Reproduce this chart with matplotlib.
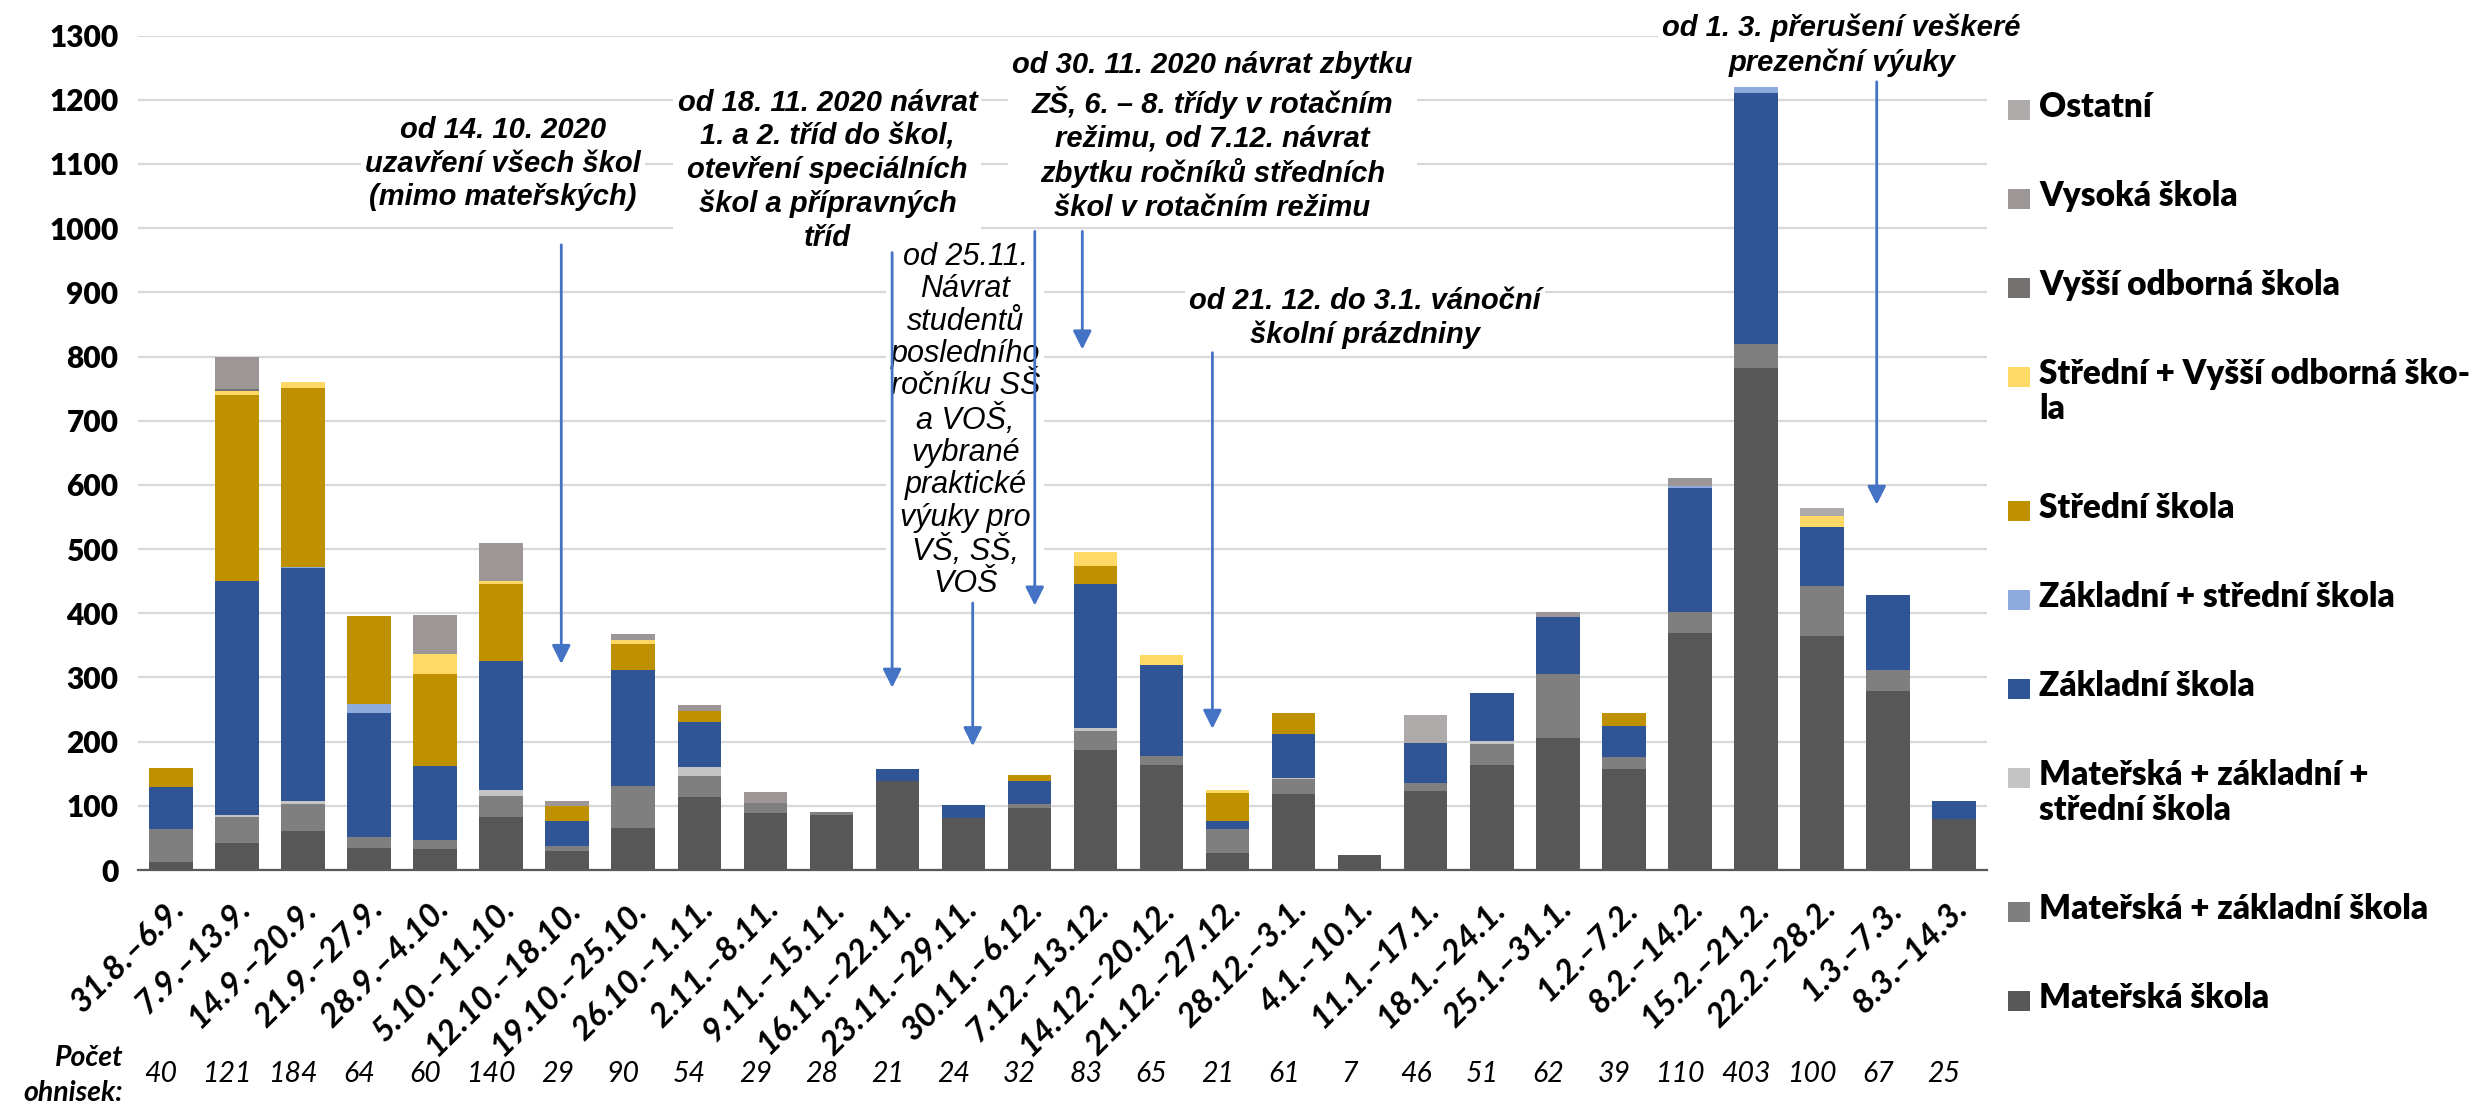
import matplotlib
matplotlib.use("Agg")
import matplotlib.pyplot as plt
import matplotlib.transforms as mtransforms
from matplotlib.patches import Rectangle
import numpy as np

weeks = ["31.8.–6.9.", "7.9.–13.9.", "14.9.–20.9.", "21.9.–27.9.", "28.9.–4.10.",
         "5.10.–11.10.", "12.10.–18.10.", "19.10.–25.10.", "26.10.–1.11.", "2.11.–8.11.",
         "9.11.–15.11.", "16.11.–22.11.", "23.11.–29.11.", "30.11.–6.12.", "7.12.–13.12.",
         "14.12.–20.12.", "21.12.–27.12.", "28.12.–3.1.", "4.1.–10.1.", "11.1.–17.1.",
         "18.1.–24.1.", "25.1.–31.1.", "1.2.–7.2.", "8.2.–14.2.", "15.2.–21.2.",
         "22.2.–28.2.", "1.3.–7.3.", "8.3.–14.3."]
counts = [40, 121, 184, 64, 60, 140, 29, 90, 54, 29, 28, 21, 24, 32, 83, 65, 21, 61,
          7, 46, 51, 62, 39, 110, 403, 100, 67, 25]

# series, bottom to top
materska = [13, 42, 61, 35, 32, 83, 30, 65, 114, 89, 85, 139, 81, 96, 187, 163, 27, 119,
            24, 123, 163, 206, 157, 369, 782, 364, 279, 80]
mat_zakl = [51, 40, 42, 16, 15, 33, 8, 66, 32, 16, 5, 0, 0, 7, 30, 15, 37, 23,
            0, 13, 34, 100, 19, 33, 37, 79, 33, 0]
mat_zakl_str = [0, 3, 4, 0, 0, 9, 0, 0, 15, 0, 0, 0, 0, 0, 4, 0, 0, 2,
                0, 0, 4, 0, 0, 0, 0, 0, 0, 0]
zakladni = [66, 365, 363, 193, 115, 201, 38, 180, 70, 0, 0, 18, 20, 36, 225, 142, 12, 68,
            0, 62, 74, 88, 49, 193, 392, 92, 117, 28]
zakl_str = [0, 0, 2, 14, 0, 0, 0, 0, 0, 0, 0, 0, 0, 0, 0, 0, 0, 0,
            0, 0, 0, 0, 0, 3, 9, 0, 0, 0]
stredni = [29, 290, 279, 137, 144, 120, 23, 41, 17, 0, 0, 0, 0, 9, 27, 0, 44, 32,
           0, 0, 0, 0, 20, 0, 0, 0, 0, 0]
str_vos = [0, 6, 9, 0, 30, 5, 0, 6, 0, 0, 0, 0, 0, 0, 23, 15, 5, 0,
           0, 0, 0, 0, 0, 0, 0, 16, 0, 0]
vos = [0, 4, 0, 0, 0, 0, 0, 0, 0, 0, 0, 0, 0, 0, 0, 0, 0, 0,
       0, 0, 0, 0, 0, 0, 0, 0, 0, 0]
vysoka = [0, 49, 0, 0, 61, 58, 8, 9, 9, 17, 0, 0, 0, 0, 0, 0, 0, 0,
          0, 0, 0, 8, 0, 12, 0, 0, 0, 0]
ostatni = [0, 0, 0, 0, 0, 0, 0, 0, 0, 0, 0, 0, 0, 0, 0, 0, 0, 0,
           0, 44, 0, 0, 0, 0, 0, 13, 0, 0]

series = [
    ("Mateřská škola", materska, "#575757"),
    ("Mateřská + základní škola", mat_zakl, "#7f7f7f"),
    ("Mateřská + základní +\nstřední škola", mat_zakl_str, "#c4c4c4"),
    ("Základní škola", zakladni, "#2f5597"),
    ("Základní + střední škola", zakl_str, "#8faadc"),
    ("Střední škola", stredni, "#bf9000"),
    ("Střední + Vyšší odborná ško-\nla", str_vos, "#ffd966"),
    ("Vyšší odborná škola", vos, "#767171"),
    ("Vysoká škola", vysoka, "#9c9696"),
    ("Ostatní", ostatni, "#aeaaaa"),
]

W, H = 2480, 1105
fig = plt.figure(figsize=(W / 100, H / 100), dpi=100)
ax = fig.add_axes([138 / W, 1 - 870 / H, (1987 - 138) / W, (870 - 35.6) / H])

x = np.arange(len(weeks))
bottom = np.zeros(len(weeks))
for name, vals, col in series:
    ax.bar(x, vals, 0.66, bottom=bottom, color=col, linewidth=0, zorder=2)
    bottom += np.array(vals)

ax.set_xlim(-0.5, len(weeks) - 0.5)
ax.set_ylim(0, 1300)
ax.set_yticks(np.arange(0, 1301, 100))
ax.grid(axis="y", color="#d9d9d9", linewidth=1.6, zorder=0)
ax.set_axisbelow(True)
for s in ["left", "right", "top"]:
    ax.spines[s].set_visible(False)
ax.spines["bottom"].set_color("#595959")
ax.spines["bottom"].set_linewidth(1.6)
ax.tick_params(axis="both", length=0)
ax.tick_params(axis="y", pad=14)
for lab in ax.get_yticklabels():
    lab.set_fontfamily("Lato")
    lab.set_fontweight("heavy")
    lab.set_fontsize(21.5)

ax.set_xticks(x)
ax.set_xticklabels(weeks, rotation=45, ha="right", va="center",
                   rotation_mode="anchor", fontfamily="Lato",
                   fontstyle="italic", fontweight="bold", fontsize=24)
off = mtransforms.ScaledTranslation(0.09, -0.29, fig.dpi_scale_trans)
for lab in ax.get_xticklabels():
    lab.set_transform(lab.get_transform() + off)

# outbreak counts row
for i, c in enumerate(counts):
    ax.text(i - 0.15, -318, str(c), ha="center", va="center", fontfamily="Lato",
            fontstyle="italic", fontsize=20.5, clip_on=False)
fig.text(123 / W, 1 - 1058 / H, "Počet", ha="right", va="center", fontfamily="Lato",
         fontstyle="italic", fontweight="bold", fontsize=20.5)
fig.text(123 / W, 1 - 1093 / H, "ohnisek:", ha="right", va="center", fontfamily="Lato",
         fontstyle="italic", fontweight="bold", fontsize=20.5)

# annotations
bold_note = dict(ha="center", va="center", fontfamily="Liberation Sans",
                 fontstyle="italic", fontweight="bold", fontsize=21, linespacing=1.25,
                 bbox=dict(facecolor="white", edgecolor="none", pad=3), zorder=4,
                 clip_on=False)
ax.text(5.03, 1100, "od 14. 10. 2020\nuzavření všech škol\n(mimo mateřských)", **bold_note)
ax.text(9.94, 1090, "od 18. 11. 2020 návrat\n1. a 2. tříd do škol,\notevření speciálních\n"
        "škol a přípravných\ntříd", **bold_note)
ax.text(15.77, 1143, "od 30. 11. 2020 návrat zbytku\nZŠ, 6. – 8. třídy v rotačním\n"
        "režimu, od 7.12. návrat\nzbytku ročníků středních\nškol v rotačním režimu",
        **bold_note)
ax.text(18.08, 860, "od 21. 12. do 3.1. vánoční\nškolní prázdniny", **bold_note)
ax.text(25.3, 1285, "od 1. 3. přerušení veškeré\nprezenční výuky", **bold_note)
ax.text(12.03, 700, "od 25.11.\nNávrat\nstudentů\nposledního\nročníku SŠ\na VOŠ,\n"
        "vybrané\npraktické\nvýuky pro\nVŠ, SŠ,\nVOŠ", ha="center", va="center",
        fontfamily="Liberation Sans", fontstyle="italic", fontsize=22,
        linespacing=1.1, bbox=dict(facecolor="white", edgecolor="none", pad=3),
        zorder=4)

arrows = [(5.91, 974, 321), (10.92, 962, 284), (12.14, 416, 193), (13.08, 995, 412),
          (13.80, 995, 811), (15.77, 806, 220), (25.83, 1228, 569)]
for ax_x, y0, y1 in arrows:
    ax.annotate("", xy=(ax_x, y1), xytext=(ax_x, y0),
                arrowprops=dict(arrowstyle="-|>", color="#4472c4", lw=2,
                                mutation_scale=28, shrinkA=0, shrinkB=0), zorder=5)

# legend, top entry first
ly = 110
for name, vals, col in reversed(series):
    fig.patches.append(Rectangle((2008 / W, 1 - (ly + 10) / H), 22 / W, 20 / H,
                                 transform=fig.transFigure, facecolor=col,
                                 edgecolor="none"))
    fig.text(2039 / W, 1 - (ly - 19) / H, name, ha="left", va="top", fontfamily="Lato",
             fontweight="heavy", fontsize=24, linespacing=1.12,
             transform=fig.transFigure)
    ly += 89 + 45 * name.count("\n")

fig.savefig("out.png", dpi=100)
